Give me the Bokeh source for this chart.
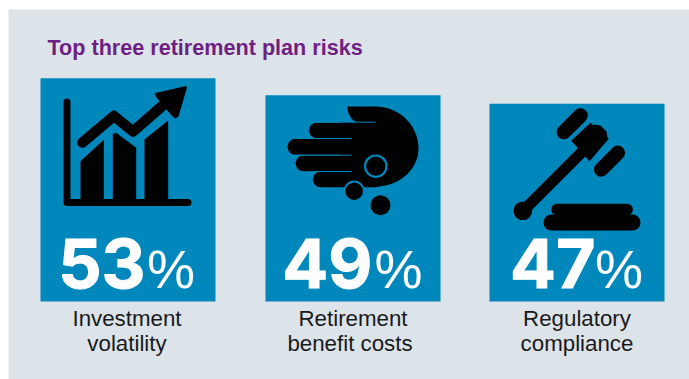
from bokeh.plotting import figure
from bokeh.embed import file_html
from bokeh.resources import INLINE
from bokeh.core.properties import value
import numpy as np

TITLE = "Top three retirement plan risks"
categories = [["Investment", "volatility"], ["Retirement", "benefit costs"], ["Regulatory", "compliance"]]
shares = [53, 49, 47]

W, H = 689, 379
BASE_PX = 301       # pixel row of the zero line of the tiles
PX_PER_UNIT = 4.21  # tile height per percentage point
tile_left = [40, 265, 489]
TILE_W = 175
BLUE, BG, PURPLE = "#0087bc", "#dce3e9", "#6f1f82"

p = figure(width=W, height=H, x_range=(0, W),
           y_range=(-(H - BASE_PX) / PX_PER_UNIT, BASE_PX / PX_PER_UNIT),
           output_backend="svg", toolbar_location=None, min_border=0,
           background_fill_color="white", border_fill_color="white", outline_line_color=None)
p.axis.visible = False
p.grid.visible = False


def yy(px):
    """Row on the page to a value on the vertical scale."""
    return (BASE_PX - np.asarray(px, dtype=float)) / PX_PER_UNIT


def poly(pts, color="black"):
    xs, ys = zip(*pts)
    p.patch(list(xs), list(yy(ys)), fill_color=color, line_color=None)


def stroke(pts, width, color="black", cap="round", join="round"):
    xs, ys = zip(*pts)
    p.line(list(xs), list(yy(ys)), line_width=width, line_color=color, line_cap=cap, line_join=join)


def disc(x, y, r, fill="black", ring=None, ring_w=0):
    p.scatter([x], [yy(y)], size=2 * r, marker="circle", fill_color=fill,
              line_color=ring, line_width=ring_w)


def arc_pts(cx, cy, rx, ry, a0, a1, n=16):
    a = np.radians(np.linspace(a0, a1, n))
    return list(zip(cx + rx * np.cos(a), cy + ry * np.sin(a)))


def label(x, row, txt, size, color, font="Liberation Sans", style="normal", align="left", outline=False):
    # the renderer sets alphabetic text about 0.37 em low, so lift it by that much
    p.text(x=[x], y=[yy(row - 0.37 * size)], text=[txt], text_align=align,
           text_baseline="alphabetic", text_color=color, text_font=value(font),
           text_font_style=style, text_font_size=f"{size}px",
           text_outline_color=color if outline else None)


# Background panel
p.quad(left=[8], right=[W], top=[yy(9)], bottom=[yy(379)], fill_color=BG, line_color=None)

# Tiles, one per risk, with height from its share
p.vbar(x=[l + TILE_W / 2 for l in tile_left], width=TILE_W, bottom=0, top=shares,
       fill_color=BLUE, line_color=None)

# Chart icon
stroke([(66.5, 101.5), (66.5, 202), (187.5, 202)], 7)
poly([(80, 160.7), (103.3, 139.3), (103.3, 198.5), (80, 198.5)])
poly([(112.3, 133.3), (116, 132.5), (135.7, 147.3), (135.7, 198.5), (112.3, 198.5)])
poly([(144, 139), (167.7, 120), (167.7, 198.5), (144, 198.5)])
stroke([(82, 142), (113.5, 115.5), (132.5, 131), (168, 100)], 10.5)
poly([(155, 92.5), (185.5, 85.5), (186.5, 87), (178, 116), (175, 118), (172, 116), (156, 97), (154.5, 94)])

# Hand icon
stroke([(316, 129.9), (375, 129.9)], 15.2)
stroke([(295, 146.3), (375, 146.3)], 16)
stroke([(303, 162.8), (375, 162.8)], 15.8)
stroke([(320, 179), (375, 179)], 15.4)
poly([(347, 106), (375, 106)] + arc_pts(375, 148, 43, 42, -90, 0) + arc_pts(375, 148, 43, 38, 0, 90)
     + [(340, 186), (340, 121.5), (358, 121.5)] + arc_pts(358, 106, 11, 15.5, 90, 180))
stroke([(300, 121.7), (375, 121.7)], 1, color=BLUE, cap="butt")
stroke([(285, 138), (351, 138)], 1, color=BLUE, cap="butt")
stroke([(295, 154.7), (351, 154.7)], 1, color=BLUE, cap="butt")
stroke([(312, 171), (351, 171)], 1, color=BLUE, cap="butt")
disc(375.3, 165.7, 10.7, "black", BLUE, 2.2)
disc(353.7, 190.7, 9.7, "black", BLUE, 2)
disc(380, 204.7, 10)

# Gavel icon
stroke([(524, 209), (584, 149)], 11, cap="butt")
disc(522.3, 210.3, 9.3)
stroke([(563.3, 131.7), (580, 115)], 14.5)
stroke([(600.7, 169), (617.3, 152.3)], 14.5)
poly([(570.7, 140.3), (590, 122.3), (608.3, 138.3), (589, 160.7)])
poly([(594, 124), (600, 125), (606, 131), (607, 137), (602, 138), (592, 128)])
stroke([(556.7, 209), (626.5, 209)], 11.7)
stroke([(551, 222), (632, 222)], 16)

# Shares in large figures, and their captions
digit_right = [145, 372, 595]
percent_left = [146.5, 374, 594.5]
for right, left, v in zip(digit_right, percent_left, shares):
    label(right, 288, str(v), 68, "white", font="Inter", style="bold", align="right", outline=True)
    label(left, 288, "%", 54, "white")

caption_centre = [[126.5, 126.5], [352.5, 349.5], [576.5, 576.5]]
for centres, lines in zip(caption_centre, categories):
    for row, cx, line in zip((326, 351.3), centres, lines):
        label(cx, row, line, 22.3, "#1a1a1a", align="center")

label(47, 55, TITLE, 21.6, PURPLE, style="bold")

open("out.html", "w").write(file_html(p, INLINE))
